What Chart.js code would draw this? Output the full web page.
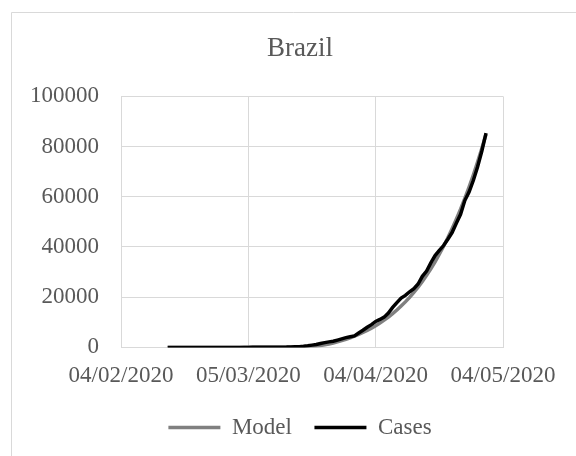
<!DOCTYPE html>
<html lang="en">

<head>
    <meta charset="UTF-8">
    <title>Brazil</title>
    <script src="https://cdn.jsdelivr.net/npm/chart.js"></script>
    <style>
        body { margin: 0; background: #fff; }
        #chart { display: block; }
    </style>
</head>

<body>
    <canvas id="chart" width="576" height="456"></canvas>

    <script>
        // first day of the series (15/02/2020), counted in days from 04/02/2020
        const firstDay = 11;
        const tickLabels = ['04/02/2020', '05/03/2020', '04/04/2020', '04/05/2020'];

        // daily values 15/02/2020 .. 30/04/2020
        const cases = [
            0, 0, 0, 0, 0, 0, 0, 0, 0, 0, 0,
            1, 1, 1, 2,
            2, 2, 2, 3, 8, 13, 19, 25, 25, 34, 52, 77, 98, 121,
            200, 234, 291, 428, 621, 904, 1128, 1546, 1891, 2201, 2433, 2915, 3417, 3904, 4256, 4579, 5717,
            6836, 8044, 9056, 10360, 11130, 12056, 13717, 15927, 17857, 19638,
            20727, 22169, 23430, 25262, 28320, 30425, 33682, 36599, 38654, 40581,
            43079, 45757, 49492, 52995, 58509, 61888, 66501, 71886, 78162, 85380
        ];
        const model = [
            0, 0, 0, 0, 1, 1, 1, 1, 2, 2, 2, 3, 3, 4, 5,
            6, 7, 9, 11, 13, 16, 20, 24, 30, 37, 45, 56, 69, 85,
            105, 130, 165, 215, 290, 400, 560, 780, 1050, 1380, 1760, 2200, 2700, 3250, 3850, 4500, 5200,
            5950, 6780, 7680, 8660, 9720, 10870, 12110, 13450, 14900, 16460,
            18140, 19950, 21900, 24000, 26250, 28700, 31300, 34100, 37100, 40300,
            43700, 47300, 51100, 55100, 59400, 63900, 68700, 73800, 79200, 84900
        ];

        const textColor = '#595959';
        const gridColor = '#d9d9d9';
        const serif = "'Liberation Serif', 'Times New Roman', serif";

        function toPoints(values) {
            return values.map((v, i) => ({ x: firstDay + i, y: v }));
        }

        // white background + the light frame of the chart area
        const frame = {
            id: 'frame',
            beforeDraw(chart) {
                const ctx = chart.ctx;
                ctx.save();
                ctx.fillStyle = '#fff';
                ctx.fillRect(0, 0, chart.width, chart.height);
                ctx.strokeStyle = gridColor;
                ctx.lineWidth = 1;
                ctx.beginPath();
                ctx.moveTo(11.5, chart.height);
                ctx.lineTo(11.5, 12.5);
                ctx.lineTo(chart.width, 12.5);
                ctx.stroke();
                ctx.restore();
            }
        };

        new Chart(document.getElementById('chart'), {
            type: 'line',
            data: {
                datasets: [
                    {
                        label: 'Model',
                        data: toPoints(model),
                        borderColor: '#808080',
                        backgroundColor: '#808080',
                        borderWidth: 3.5,
                        pointRadius: 0,
                        pointStyle: 'line',
                        tension: 0,
                        order: 1
                    },
                    {
                        label: 'Cases',
                        data: toPoints(cases),
                        borderColor: '#000000',
                        backgroundColor: '#000000',
                        borderWidth: 3.5,
                        pointRadius: 0,
                        pointStyle: 'line',
                        tension: 0,
                        order: 0
                    }
                ]
            },
            options: {
                responsive: false,
                animation: false,
                layout: { padding: { left: 30, right: 6, top: 0, bottom: 7 } },
                plugins: {
                    title: {
                        display: true,
                        text: 'Brazil',
                        color: textColor,
                        font: { family: serif, size: 27, weight: 'normal' },
                        padding: { top: 33, bottom: 31 }
                    },
                    legend: {
                        position: 'bottom',
                        labels: {
                            usePointStyle: true,
                            pointStyleWidth: 52,
                            padding: 11,
                            color: textColor,
                            font: { family: serif, size: 23 },
                            sort: (a, b) => a.datasetIndex - b.datasetIndex,
                            // a little extra room after the first entry, like the reference legend
                            generateLabels: chart => {
                                const items = Chart.defaults.plugins.legend.labels.generateLabels(chart);
                                items.forEach((it, i) => { if (it.datasetIndex === 0) it.text += '  '; });
                                return items;
                            }
                        }
                    },
                    tooltip: { enabled: false }
                },
                scales: {
                    x: {
                        type: 'linear',
                        min: 0,
                        max: 90,
                        ticks: {
                            stepSize: 30,
                            autoSkip: false,
                            maxRotation: 0,
                            padding: 15,
                            color: textColor,
                            font: { family: serif, size: 23 },
                            callback: (v, i) => tickLabels[i]
                        },
                        grid: { color: gridColor, drawTicks: false },
                        border: { color: gridColor }
                    },
                    y: {
                        min: 0,
                        max: 100000,
                        ticks: {
                            stepSize: 20000,
                            padding: 22,
                            color: textColor,
                            font: { family: serif, size: 23 },
                            callback: v => String(v)
                        },
                        grid: { color: gridColor, drawTicks: false },
                        border: { color: gridColor },
                        afterFit: s => { s.width = 91; }
                    },
                    // empty axis that only keeps the plot's right edge where the reference has it
                    y2: {
                        position: 'right',
                        display: true,
                        grid: { display: false, drawTicks: false },
                        border: { display: false },
                        ticks: { display: false },
                        afterFit: s => { s.width = 67; }
                    }
                }
            },
            plugins: [frame]
        });
    </script>
</body>

</html>
